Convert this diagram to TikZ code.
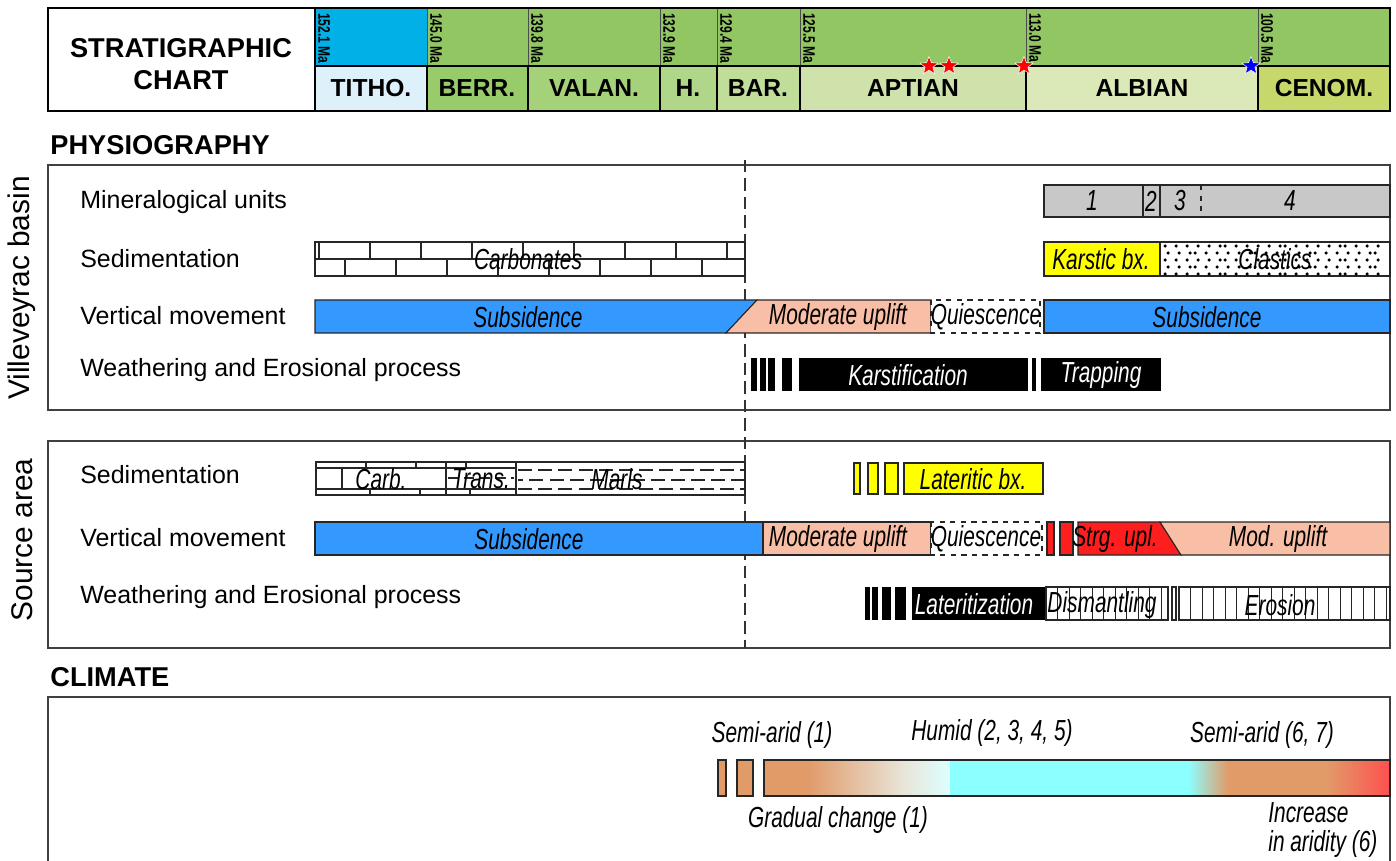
\documentclass[tikz,border=0pt]{standalone}
\usepackage{fontspec}
\setmainfont{Liberation Sans}
\newfontfamily\barfont[FakeStretch=0.72]{Liberation Sans}
\usetikzlibrary{shapes.geometric}

\definecolor{tithotop}{RGB}{0,176,230}
\definecolor{cretop}{RGB}{146,198,99}
\definecolor{tithobot}{RGB}{222,240,250}
\definecolor{berr}{RGB}{152,203,105}
\definecolor{valan}{RGB}{165,209,123}
\definecolor{haut}{RGB}{176,214,138}
\definecolor{barr}{RGB}{192,221,153}
\definecolor{apt}{RGB}{207,226,171}
\definecolor{alb}{RGB}{219,233,184}
\definecolor{cenom}{RGB}{198,215,107}
\definecolor{subs}{RGB}{51,153,255}
\definecolor{uplift}{RGB}{249,190,166}
\definecolor{strong}{RGB}{255,30,30}
\definecolor{breccia}{RGB}{255,255,0}
\definecolor{mineral}{RGB}{200,200,200}
\definecolor{arid}{RGB}{225,155,105}
\definecolor{humid}{RGB}{140,255,255}
\definecolor{hot}{RGB}{255,80,80}

\tikzset{
  rowlabel/.style={anchor=west, inner sep=0, font=\fontsize{14.2}{16}\selectfont},
  heading/.style={anchor=west, inner sep=0, font=\bfseries\fontsize{15.5}{18}\selectfont},
  stagename/.style={inner sep=0, font=\bfseries\fontsize{14}{16}\selectfont},
  malabel/.style={rotate=-90, anchor=south west, inner sep=1pt, font=\barfont\bfseries\fontsize{9.5}{10}\selectfont},
  bartext/.style={inner sep=0, font=\barfont\itshape\fontsize{16.5}{18}\selectfont},
  sidelabel/.style={rotate=90, inner sep=0, font=\fontsize{17}{19}\selectfont},
  panel/.style={draw=black!75, line width=0.8pt},
  bar/.style={draw=black!85, line width=0.6pt},
  event/.style={star, star points=5, star point ratio=2.3, minimum size=0.38cm, inner sep=0, draw=white, line width=0.3pt}
}

\begin{document}
\begin{tikzpicture}[x=0.02cm, y=-0.02cm]
\useasboundingbox (0,0) rectangle (1396,861);

% Stratigraphic chart
\fill[tithotop] (315,8) rectangle (427,66);
\fill[cretop] (427,8) rectangle (1390,66);
\foreach \a/\b/\c in {315/427/tithobot, 427/528/berr, 528/660/valan, 660/717/haut, 717/800/barr, 800/1026/apt, 1026/1258/alb, 1258/1390/cenom} {
  \fill[\c] (\a,66) rectangle (\b,111);
}
\foreach \x in {427,528,660,717,800,1026,1258} {
  \draw[black!70, line width=0.4pt] (\x,8) -- (\x,66);
  \draw[line width=1.2pt] (\x,66) -- (\x,111);
}
\draw[line width=1.2pt] (315,66) -- (1390,66);
\draw[line width=1.2pt] (315,8) -- (315,111);
\draw[line width=1.2pt] (48,8) rectangle (1390,111);
\node[align=center, inner sep=0, font=\bfseries\fontsize{15.5}{18}\selectfont] (chart) at (181,64) {STRATIGRAPHIC\\CHART};
\foreach \x/\t in {315/152.1, 427/145.0, 528/139.8, 660/132.9, 717/129.4, 800/125.5, 1026/113.0, 1258/100.5} {
  \node[malabel] (ma\x) at (\x+1,11) {\t\ Ma};
}
\node[stagename] (titho) at (371,88) {TITHO.};
\node[stagename] (berr) at (477,88) {BERR.};
\node[stagename] (valan) at (594,88) {VALAN.};
\node[stagename] (haut) at (688,88) {H.};
\node[stagename] (barr) at (758,88) {BAR.};
\node[stagename] (aptian) at (913,88) {APTIAN};
\node[stagename] (albian) at (1142,88) {ALBIAN};
\node[stagename] (cenom) at (1324,88) {CENOM.};
\node[event, fill=red] (starA) at (929,66) {};
\node[event, fill=red] (starB) at (949,66) {};
\node[event, fill=red] (starC) at (1024,66) {};
\node[event, fill=blue] (starD) at (1251,66) {};

% Physiography
\node[heading] (physio) at (50,145) {PHYSIOGRAPHY};
\draw[panel] (48,165) rectangle (1390,410);
\draw[panel] (48,441) rectangle (1390,648);
\node[sidelabel] (basin) at (22,288) {Villeveyrac basin};
\node[sidelabel] (source) at (22,540) {Source area};
\draw[black!80, line width=0.6pt, dash pattern=on 7pt off 3.5pt] (745,160) -- (745,648);

\node[rowlabel] (minlab) at (80,202) {Mineralogical units};
\node[rowlabel] (sedlab) at (80,259) {Sedimentation};
\node[rowlabel] (vertlab) at (80,316) {Vertical movement};
\node[rowlabel] (weathlab) at (80,370) {Weathering and Erosional process};

% mineralogical units
\draw[bar, fill=mineral] (1044,185) rectangle (1390,217);
\draw[bar] (1143,185) -- (1143,217);
\draw[bar] (1160,185) -- (1160,217);
\draw[bar, dashed] (1201,185) -- (1201,217);
\node[bartext] (unitA) at (1092,201) {1};
\node[bartext] (unitB) at (1151,201) {2};
\node[bartext] (unitC) at (1180,201) {3};
\node[bartext] (unitD) at (1290,201) {4};

% carbonates (bricks)
\draw[bar, fill=white] (315,242) rectangle (745,276);
\draw[bar] (315,259) -- (745,259);
\foreach \x in {319,370,...,727} \draw[bar] (\x,242) -- (\x,259);
\foreach \x in {345,396,...,745} \draw[bar] (\x,259) -- (\x,276);
\node[bartext] (carbonates) at (528,259) {Carbonates};

% karstic breccia and clastics
\draw[bar, fill=breccia] (1044,242) rectangle (1160,276);
\node[bartext] (karsticbx) at (1101,259) {Karstic bx.};
\draw[bar, fill=white] (1160,242) rectangle (1390,276);
\foreach \j in {0,...,4} {
  \foreach \i in {0,...,21} {
    \pgfmathsetmacro\dx{1165+10*\i+mod(3*\j+7*\i,6)}
    \pgfmathsetmacro\dy{246+7*\j}
    \fill (\dx,\dy) circle (1pt);
  }
}
\node[bartext] (clastics) at (1275,259) {Clastics};

% vertical movement
\draw[bar, fill=subs] (315,300) -- (757,300) -- (726,333) -- (315,333) -- cycle;
\draw[bar, fill=uplift] (757,300) -- (931,300) -- (931,333) -- (726,333) -- cycle;
\draw[bar, dashed, fill=white] (931,300) rectangle (1040,333);
\draw[bar, fill=subs] (1044,300) rectangle (1390,333);
\node[bartext] (subsA) at (528,317) {Subsidence};
\node[bartext] (upliftA) at (838,317) {Moderate uplift};
\node[bartext] (quietA) at (986,317) {Quiescence};
\node[bartext] (subsB) at (1207,317) {Subsidence};

% weathering
\foreach \a/\b in {751/757, 760/766, 768/775, 782/792, 1032/1036} {
  \fill (\a,358) rectangle (\b,391);
}
\fill (799,358) rectangle (1028,391);
\fill (1041,358) rectangle (1161,391);
\node[bartext, text=white] (karst) at (908,375) {Karstification};
\node[bartext, text=white] (trap) at (1101,375) {Trapping};

% Source area
\node[rowlabel] (sedlabB) at (80,475) {Sedimentation};
\node[rowlabel] (vertlabB) at (80,538) {Vertical movement};
\node[rowlabel] (weathlabB) at (80,597) {Weathering and Erosional process};

% carb, trans, marls
\draw[bar, fill=white] (316,462) rectangle (745,495);
\draw[bar] (316,468) -- (516,468);
\draw[bar] (316,489) -- (516,489);
\foreach \x in {366,416,466} \draw[bar] (\x,462) -- (\x,468);
\foreach \x in {342} \draw[bar, line width=1pt] (\x,468) -- (\x,489);
\foreach \x in {370,420,470} \draw[bar] (\x,489) -- (\x,495);
\draw[bar, line width=1pt] (316,462) -- (316,495);
\draw[bar] (446,462) -- (446,495);
\draw[bar] (516,462) -- (516,495);
\foreach \y/\p in {470/0pt, 480/5pt, 489/0pt} {
  \draw[bar, dash pattern=on 8pt off 3.5pt, dash phase=\p] (518,\y) -- (744,\y);
}
\draw[bar, dash pattern=on 6pt off 3pt] (448,478) -- (514,478);
\node[bartext] (carb) at (381,479) {Carb.};
\node[bartext] (trans) at (481,479) {Trans.};
\node[bartext] (marls) at (617,479) {Marls};

\foreach \a/\b in {854/860, 868/878, 885/898} {
  \draw[bar, fill=breccia] (\a,463) rectangle (\b,494);
}
\draw[bar, fill=breccia] (904,463) rectangle (1043,494);
\node[bartext] (lateriticbx) at (973,479) {Lateritic bx.};

% vertical movement
\draw[bar, fill=subs] (315,522) rectangle (763,555);
\draw[bar, fill=uplift] (763,522) rectangle (931,555);
\draw[bar, dashed, fill=white] (931,522) rectangle (1042,555);
\draw[bar, fill=strong] (1047,522) rectangle (1054,555);
\draw[bar, fill=strong] (1060,522) rectangle (1073,555);
\draw[bar, fill=strong] (1078,522) -- (1160,522) -- (1181,555) -- (1078,555) -- cycle;
\draw[bar, fill=uplift] (1160,522) -- (1390,522) -- (1390,555) -- (1181,555) -- cycle;
\node[bartext] (subsC) at (529,539) {Subsidence};
\node[bartext] (upliftB) at (838,539) {Moderate uplift};
\node[bartext] (quietB) at (986,539) {Quiescence};
\node[bartext] (strgupl) at (1115,539) {Strg. upl.};
\node[bartext] (modupl) at (1278,539) {Mod. uplift};

% weathering
\foreach \a/\b in {865/870, 872/878, 882/891, 895/906} {
  \fill (\a,587) rectangle (\b,620);
}
\fill (912,587) rectangle (1046,620);
\draw[bar] (1046,587) rectangle (1168,620);
\foreach \x in {1057.5,1069,...,1162} \draw[bar, line width=0.4pt] (\x,587) -- (\x,620);
\draw[bar] (1172,587) rectangle (1176,620);
\draw[bar] (1179,587) rectangle (1390,620);
\foreach \x in {1190.5,1202,...,1386} \draw[bar, line width=0.4pt] (\x,587) -- (\x,620);
\node[bartext, text=white] (lateritization) at (974,604) {Lateritization};
\node[bartext] (dismantling) at (1102,605) {Dismantling};
\node[bartext] (erosion) at (1280,605) {Erosion};

% Climate
\node[heading] (climate) at (50,677) {CLIMATE};
\draw[panel] (48,861) -- (48,697) -- (1390,697) -- (1390,861);
\draw[bar, fill=arid] (718,760) rectangle (726,796);
\draw[bar, fill=arid] (737,760) rectangle (753,796);
\fill[arid] (764,760) rectangle (808,796);
\shade[left color=arid, right color={rgb,255:red,232;green,230;blue,218}] (808,760) rectangle (905,796);
\shade[left color={rgb,255:red,232;green,230;blue,218}, right color={rgb,255:red,220;green,255;blue,255}] (905,760) rectangle (950,796);
\fill[humid] (950,760) rectangle (1188,796);
\shade[left color=humid, right color=arid] (1188,760) rectangle (1228,796);
\fill[arid] (1228,760) rectangle (1326,796);
\shade[left color=arid, right color=hot] (1326,760) rectangle (1390,796);
\draw[bar] (764,760) rectangle (1390,796);
\node[bartext] (semiaridA) at (772,735) {Semi-arid (1)};
\node[bartext] (humidlab) at (992,733) {Humid (2, 3, 4, 5)};
\node[bartext] (semiaridB) at (1262,735) {Semi-arid (6, 7)};
\node[bartext] (gradual) at (838,820) {Gradual change (1)};
\node[bartext, anchor=west, align=left, font=\barfont\itshape\fontsize{16.5}{17}\selectfont] (aridity) at (1268,830) {Increase\\in aridity (6)};
\end{tikzpicture}
\end{document}
